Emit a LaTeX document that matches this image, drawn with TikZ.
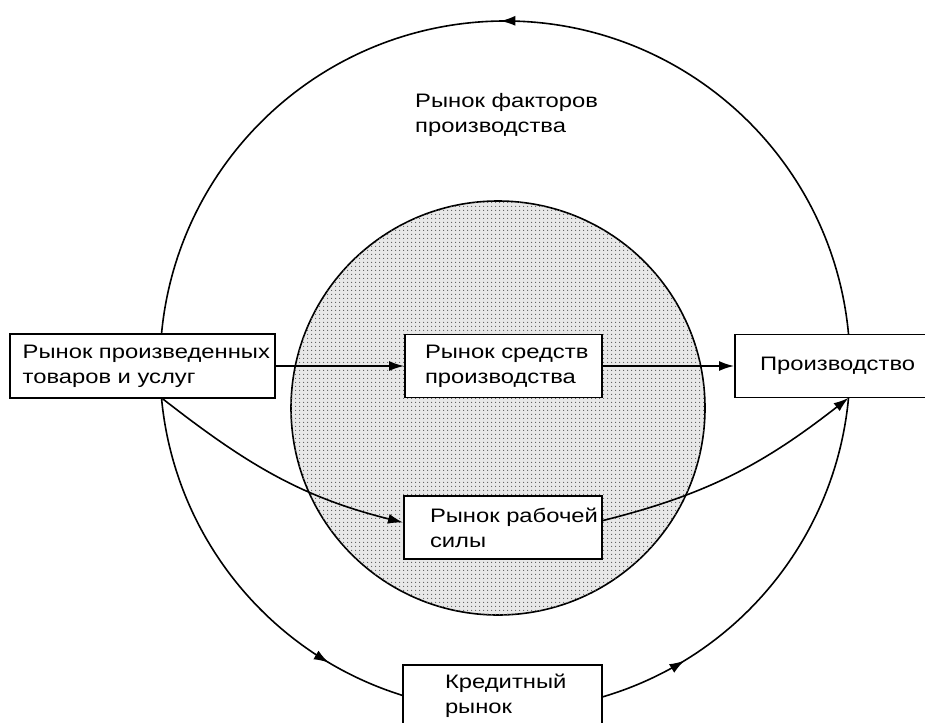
\documentclass[tikz,border=0pt]{standalone}
\usepackage{fontspec}
\setmainfont{Liberation Sans}[FakeStretch=1.22]
\usetikzlibrary{arrows.meta,calc,backgrounds,decorations.markings,patterns.meta}

\begin{document}
\begin{tikzpicture}[x=1pt, y=1pt,
    box/.style={draw, line width=1.9pt, fill=white, align=left,
                minimum height=63pt, inner ysep=0pt,
                font=\fontsize{19.5pt}{25pt}\selectfont},
    arr/.style={line width=1.6pt, -{Latex[length=15pt,width=10pt]}},
    ringline/.style={line width=1.6pt},
    midarrow/.style={postaction={decorate}, decoration={markings,
                mark=at position #1 with {\arrow{Latex[length=15pt,width=10pt]}}}}]
  \useasboundingbox (0,0) rectangle (925,-722);
  \clip (0,0) rectangle (925,-722);

  % markets
  \node[box, text width=239.6pt, inner xsep=12.7pt, minimum height=64pt] (goods) at (142.5,-366) {Рынок~произведенных\\товаров и услуг};
  \node[box, text width=157pt, inner xsep=20pt] (means) at (503.5,-366) {Рынок~средств\\производства};
  \node[box, text width=146pt, inner xsep=26pt] (labour) at (503,-527.5) {Рынок~рабочей\\силы};
  \node[box, text width=150pt, inner xsep=25pt] (prod) at (835,-366) {Производство};
  \node[box, text width=115pt, inner xsep=42pt, minimum height=62pt] (credit) at (502.5,-696) {Кредитный\\рынок};
  \node[align=left, inner sep=0pt, anchor=west, font=\fontsize{19.5pt}{25pt}\selectfont] (factors) at (415,-115) {Рынок~факторов\\производства};

  \begin{scope}[on background layer]
    \fill[white] (0,0) rectangle (925,-722);
    \node[circle, draw, line width=1.6pt, minimum size=414pt, inner sep=0pt, fill=black!9,
          postaction={pattern={Dots[distance=4pt,radius=0.75pt]}, pattern color=black!65}] (core) at (498,-408) {};

    % outer ring
    \coordinate (O) at (505,-366);
    \coordinate (gs) at ($(O)+(185.3:345)$);
    \coordinate (ps) at ($(O)+(354.7:345)$);
    \coordinate (pn) at ($(O)+(5.16:345)$);
    \coordinate (ce) at ($(O)+(286.3:345)$);
    \draw[ringline, midarrow=0.8] (gs) arc[start angle=185.3, end angle=252.8, radius=345];
    \draw[ringline, midarrow=0.22] (ce) arc[start angle=286.3, end angle=354.7, radius=345];
    \draw[ringline, midarrow=0.505] (pn) arc[start angle=5.16, end angle=174.7, radius=345];

    % flows
    \draw[arr] (goods) -- (means);
    \draw[arr] (means) -- (prod);
    \draw[arr] (gs) to[out=-38, in=166] ([yshift=5pt]labour.west);
    \draw[arr] ([yshift=7pt]labour.east) to[out=14, in=-142] (ps);
  \end{scope}
\end{tikzpicture}
\end{document}
